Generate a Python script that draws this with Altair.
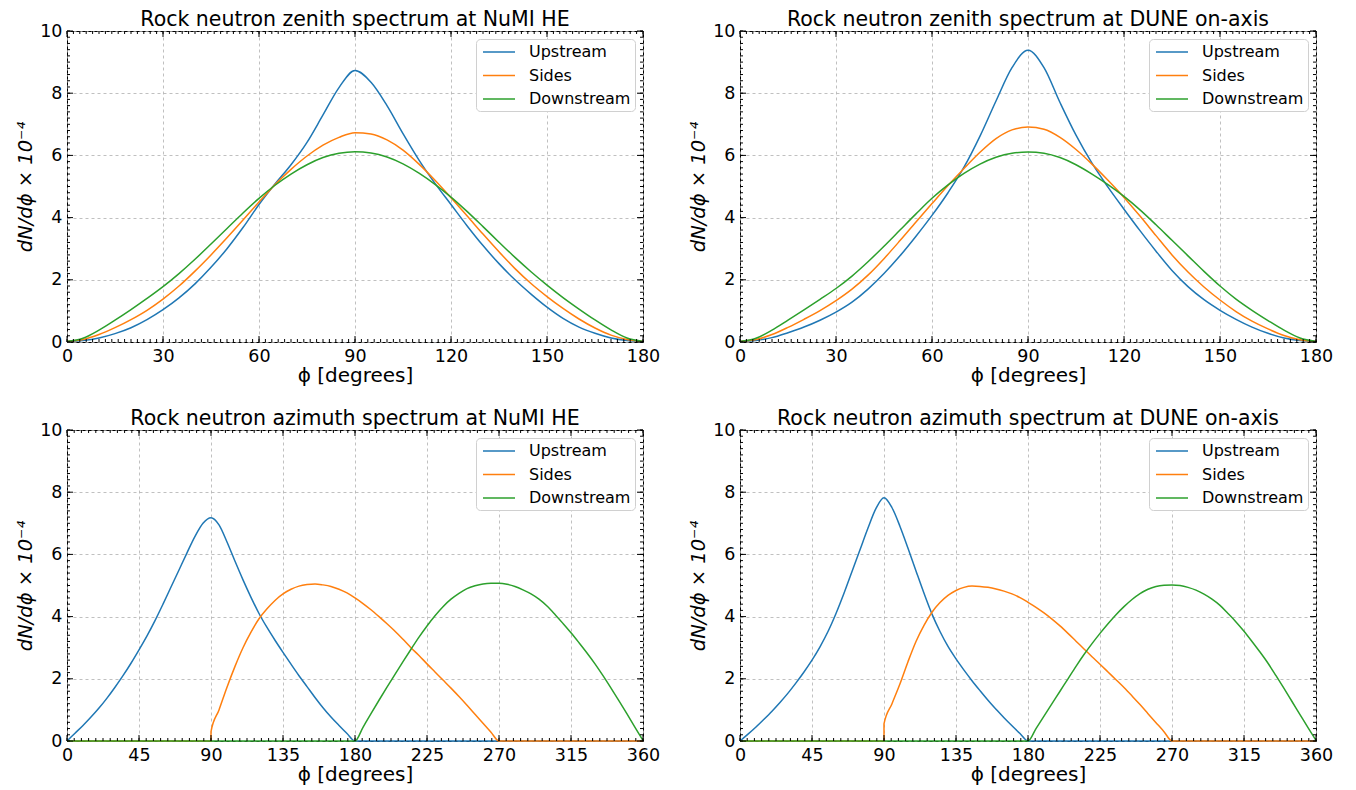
import altair as alt
import pandas as pd
import numpy as np

SERIES = ["Upstream", "Sides", "Downstream"]
COLORS = ["#1f77b4", "#ff7f0e", "#2ca02c"]

# ---------------- zenith data (0..180, step 5) ----------------
zen_x = list(range(0, 181, 5))
zen_numi_up = [0.02, 0.05, 0.13, 0.27, 0.46, 0.72, 1.04, 1.42, 1.87, 2.4, 3.0, 3.68, 4.42, 5.08, 5.7,
               6.42, 7.3, 8.18, 8.73, 8.35, 7.6, 6.7, 5.85, 5.1, 4.42, 3.74, 3.1, 2.52, 2.0, 1.54,
               1.12, 0.76, 0.48, 0.28, 0.13, 0.05, 0.02]
zen_numi_sides = [0.02, 0.08, 0.24, 0.46, 0.72, 1.02, 1.38, 1.8, 2.28, 2.8, 3.35, 3.92, 4.5, 5.06, 5.55,
                  5.98, 6.33, 6.58, 6.73, 6.69, 6.5, 6.17, 5.72, 5.2, 4.64, 4.06, 3.47, 2.9, 2.36,
                  1.88, 1.46, 1.08, 0.74, 0.45, 0.22, 0.08, 0.02]
zen_numi_down = [0.02, 0.12, 0.38, 0.7, 1.04, 1.4, 1.78, 2.2, 2.66, 3.15, 3.65, 4.15, 4.62, 5.04, 5.4,
                 5.7, 5.93, 6.07, 6.12, 6.08, 5.95, 5.73, 5.43, 5.07, 4.66, 4.2, 3.71, 3.21, 2.72,
                 2.26, 1.83, 1.43, 1.06, 0.71, 0.39, 0.13, 0.02]

zen_dune_up = [0.02, 0.05, 0.14, 0.3, 0.48, 0.7, 0.96, 1.28, 1.7, 2.2, 2.77, 3.4, 4.07, 4.8, 5.62,
               6.62, 7.75, 8.82, 9.38, 8.82, 7.7, 6.65, 5.75, 4.98, 4.27, 3.58, 2.92, 2.3, 1.78,
               1.36, 1.02, 0.73, 0.48, 0.28, 0.13, 0.05, 0.02]
zen_dune_sides = [0.02, 0.08, 0.24, 0.47, 0.73, 1.01, 1.33, 1.7, 2.15, 2.68, 3.26, 3.86, 4.45, 5.03, 5.58,
                  6.1, 6.54, 6.82, 6.91, 6.84, 6.58, 6.19, 5.72, 5.2, 4.65, 4.05, 3.42, 2.8, 2.25,
                  1.77, 1.35, 0.98, 0.67, 0.42, 0.21, 0.07, 0.02]
zen_dune_down = [0.02, 0.12, 0.38, 0.7, 1.03, 1.37, 1.72, 2.12, 2.58, 3.08, 3.6, 4.12, 4.62, 5.05, 5.42,
                 5.72, 5.94, 6.07, 6.11, 6.07, 5.93, 5.7, 5.4, 5.06, 4.68, 4.25, 3.77, 3.27, 2.77,
                 2.27, 1.8, 1.38, 1.02, 0.69, 0.38, 0.13, 0.02]

# ---------------- azimuth data (0..360) ----------------
az_up_x = list(range(0, 181, 5)) + [360]
az_numi_up = [0, 0.25, 0.5, 0.77, 1.06, 1.38, 1.73, 2.1, 2.5, 2.93, 3.38, 3.87, 4.4, 4.95, 5.5, 6.05,
              6.58, 7.0, 7.18, 6.95, 6.4, 5.78, 5.18, 4.62, 4.1, 3.65, 3.24, 2.85, 2.47, 2.1, 1.75,
              1.4, 1.07, 0.77, 0.5, 0.24, 0, 0]
az_dune_up = [0, 0.22, 0.45, 0.7, 0.96, 1.24, 1.54, 1.87, 2.22, 2.6, 3.03, 3.52, 4.1, 4.75, 5.45,
              6.15, 6.85, 7.48, 7.82, 7.5, 6.9, 6.2, 5.47, 4.75, 4.08, 3.52, 3.04, 2.64, 2.28, 1.94,
              1.62, 1.31, 1.02, 0.75, 0.49, 0.24, 0, 0]

az_sides_x = [0, 90] + list(range(90, 271, 5)) + [360]
az_numi_sides = [0, 0, 0.3, 1.0, 1.73, 2.4, 3.0, 3.5, 3.93, 4.25, 4.52, 4.73, 4.88, 4.98, 5.03, 5.05,
                 5.02, 4.97, 4.88, 4.76, 4.6, 4.42, 4.22, 4.0, 3.77, 3.53, 3.27, 3.0, 2.75, 2.48,
                 2.22, 1.96, 1.7, 1.43, 1.15, 0.86, 0.57, 0.28, 0, 0]
az_dune_sides = [0, 0, 0.55, 1.2, 1.84, 2.55, 3.2, 3.72, 4.14, 4.45, 4.68, 4.84, 4.94, 4.98, 4.97,
                 4.94, 4.89, 4.82, 4.73, 4.61, 4.46, 4.3, 4.12, 3.92, 3.7, 3.46, 3.21, 2.96, 2.71,
                 2.47, 2.22, 1.97, 1.72, 1.45, 1.17, 0.88, 0.59, 0.3, 0, 0]

az_down_x = [0] + list(range(180, 361, 5))
az_numi_down = [0, 0, 0.44, 0.88, 1.31, 1.73, 2.14, 2.55, 2.95, 3.34, 3.7, 4.03, 4.32, 4.56, 4.75, 4.9,
                4.99, 5.05, 5.07, 5.07, 5.04, 4.97, 4.86, 4.73, 4.56, 4.34, 4.07, 3.78, 3.48, 3.16,
                2.83, 2.48, 2.1, 1.7, 1.29, 0.87, 0.44, 0.02]
az_dune_down = [0, 0, 0.4, 0.8, 1.2, 1.6, 2.0, 2.4, 2.78, 3.13, 3.46, 3.77, 4.06, 4.32, 4.55, 4.74,
                4.88, 4.97, 5.01, 5.02, 5.0, 4.94, 4.85, 4.72, 4.56, 4.36, 4.1, 3.83, 3.53, 3.2,
                2.86, 2.5, 2.1, 1.69, 1.27, 0.85, 0.43, 0.02]

W, H = 576, 311
FONT = "DejaVu Sans"


def make_df(xs_list, ys_list):
    rows = []
    for s, xs, ys in zip(SERIES, xs_list, ys_list):
        for i, (x, y) in enumerate(zip(xs, ys)):
            rows.append({"x": x, "y": y, "series": s, "idx": i})
    return pd.DataFrame(rows)


def panel(title, df, xmax, xmajor, xminor):
    xscale = alt.Scale(domain=[0, xmax], nice=False, zero=False)
    yscale = alt.Scale(domain=[0, 10], nice=False)
    ymajor = [0, 2, 4, 6, 8, 10]
    yminor = [round(v, 1) for v in np.arange(0, 10.01, 0.2)]
    grid = dict(grid=True, gridDash=[3, 3], gridColor="#b0b0b0", gridWidth=0.8)
    x_axis = alt.Axis(values=xmajor, title="ϕ [degrees]", titleFontSize=20, titleFontWeight="normal",
                      titleColor="black", titlePadding=1, labelFontSize=17.5, labelColor="black",
                      labelPadding=5, labelFlush=False, labelOverlap=False, ticks=False, domain=False, **grid)
    y_axis = alt.Axis(values=ymajor, title="dN/dϕ × 10⁻⁴", titleFontSize=19.5, titleFontWeight="normal",
                      titleFontStyle="italic", titleColor="black", titlePadding=4,
                      labelFontSize=17.5, labelColor="black", labelPadding=5, labelFlush=False,
                      labelOverlap=False, ticks=False, domain=False, **grid)

    def tick_layer(vals, orient, length):
        tdf = pd.DataFrame({"v": vals})
        base = alt.Chart(tdf).mark_rule(color="black", strokeWidth=1)
        if orient == "bottom":
            return base.encode(x=alt.X("v:Q", scale=xscale, axis=x_axis), y=alt.value(H), y2=alt.value(H - length))
        if orient == "top":
            return base.encode(x=alt.X("v:Q", scale=xscale, axis=x_axis), y=alt.value(0), y2=alt.value(length))
        if orient == "left":
            return base.encode(y=alt.Y("v:Q", scale=yscale, axis=y_axis), x=alt.value(0), x2=alt.value(length))
        return base.encode(y=alt.Y("v:Q", scale=yscale, axis=y_axis), x=alt.value(W), x2=alt.value(W - length))

    lines = alt.Chart(df).mark_line(strokeWidth=1.5, interpolate="monotone").encode(
        x=alt.X("x:Q", scale=xscale, axis=x_axis),
        y=alt.Y("y:Q", scale=yscale, axis=y_axis),
        color=alt.Color("series:N", scale=alt.Scale(domain=SERIES, range=COLORS), sort=SERIES,
                        legend=alt.Legend(orient="top-right", title=None, labelFontSize=16, labelFont=FONT,
                                          labelColor="black", symbolType="M-2,0L2,0", symbolStrokeWidth=1.5,
                                          symbolSize=256, symbolOffset=10, fillColor="white",
                                          strokeColor="#d0d0d0", cornerRadius=4, padding=4, offset=8,
                                          rowPadding=6.5, labelOffset=21)),
        order="idx:Q",
    )
    layers = [lines,
              tick_layer(xmajor, "bottom", 6), tick_layer(xmajor, "top", 6),
              tick_layer(xminor, "bottom", 3), tick_layer(xminor, "top", 3),
              tick_layer(ymajor, "left", 6), tick_layer(ymajor, "right", 6),
              tick_layer(yminor, "left", 3), tick_layer(yminor, "right", 3)]
    return alt.layer(*layers).properties(
        width=W, height=H,
        title=alt.TitleParams(title, fontSize=20.5, fontWeight="normal", font=FONT, color="black", offset=-8),
    )


zen_major = [0, 30, 60, 90, 120, 150, 180]
zen_minor = list(range(0, 181, 2))
az_major = [0, 45, 90, 135, 180, 225, 270, 315, 360]
az_minor = [round(v, 1) for v in np.arange(0, 360.01, 4.5)]

p1 = panel("Rock neutron zenith spectrum at NuMI HE",
           make_df([zen_x] * 3, [zen_numi_up, zen_numi_sides, zen_numi_down]), 180, zen_major, zen_minor)
p2 = panel("Rock neutron zenith spectrum at DUNE on-axis",
           make_df([zen_x] * 3, [zen_dune_up, zen_dune_sides, zen_dune_down]), 180, zen_major, zen_minor)
p3 = panel("Rock neutron azimuth spectrum at NuMI HE",
           make_df([az_up_x, az_sides_x, az_down_x], [az_numi_up, az_numi_sides, az_numi_down]),
           360, az_major, az_minor)
p4 = panel("Rock neutron azimuth spectrum at DUNE on-axis",
           make_df([az_up_x, az_sides_x, az_down_x], [az_dune_up, az_dune_sides, az_dune_down]),
           360, az_major, az_minor)

top = alt.hconcat(p1, p2, spacing=27).resolve_scale(color="independent")
bottom = alt.hconcat(p3, p4, spacing=27).resolve_scale(color="independent")
chart = alt.vconcat(top, bottom, spacing=22).resolve_scale(color="independent").configure(
    font=FONT, padding={"left": 7, "top": 1, "right": 0, "bottom": 0},
).configure_view(stroke="black", strokeWidth=1)

chart.save("out.html", embed_options={"renderer": "svg", "actions": False})
